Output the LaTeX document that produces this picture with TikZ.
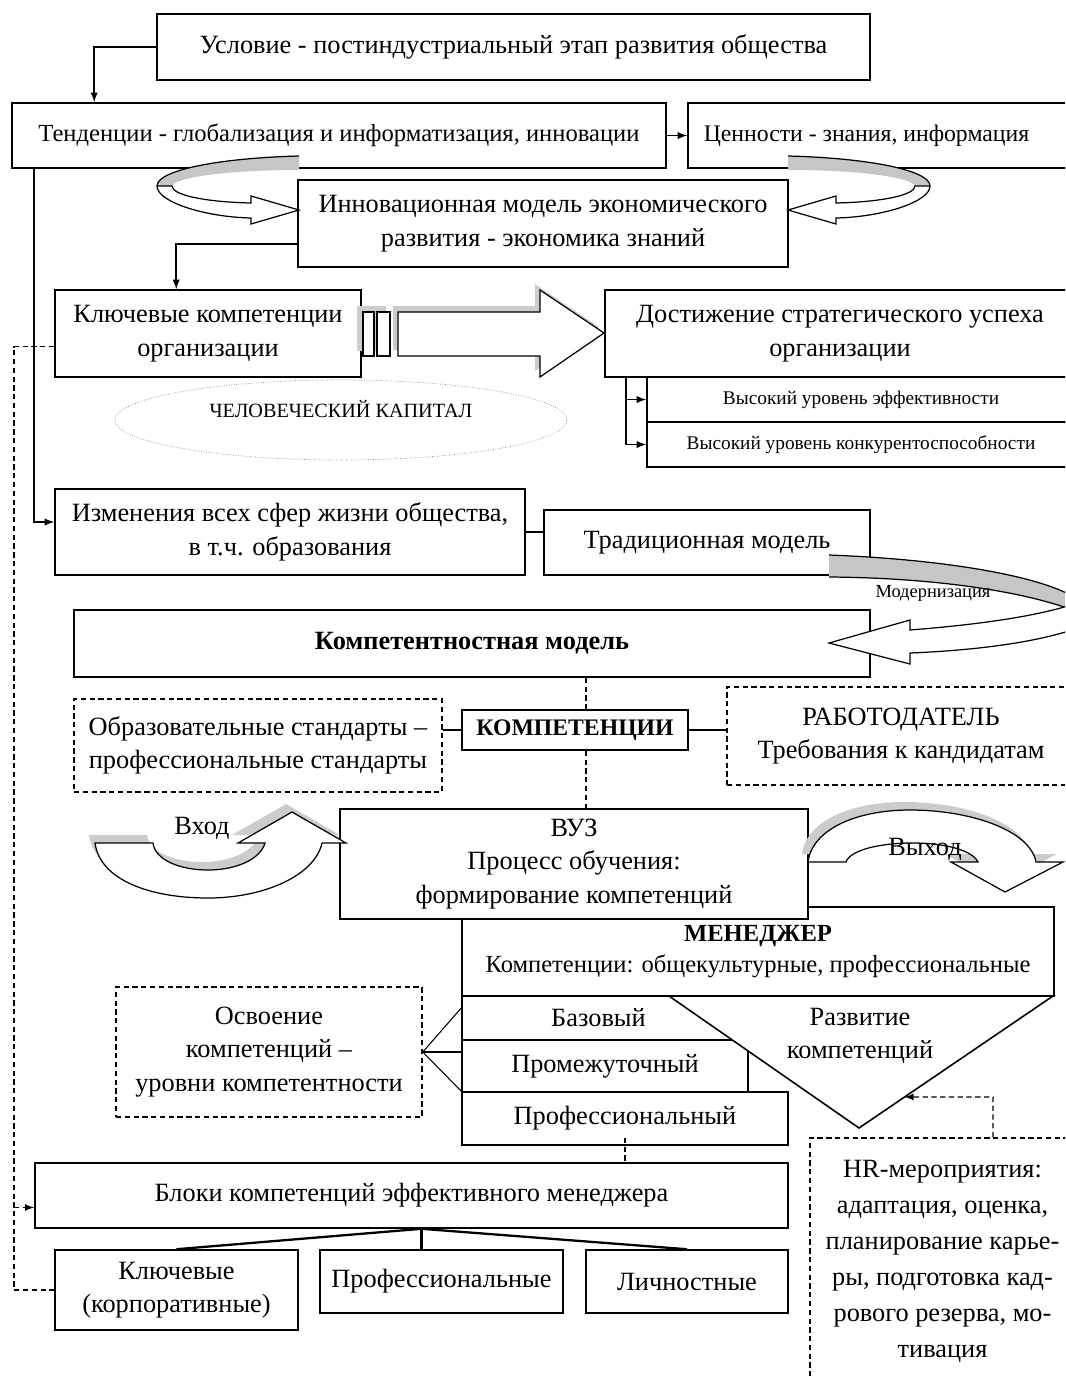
\documentclass[tikz,border=0pt]{standalone}
\usepackage{fontspec}
\setmainfont{Liberation Serif}
\usetikzlibrary{calc,shapes.geometric}

\tikzset{
  box/.style={draw, fill=white, line width=0.9pt, inner sep=0pt, align=center,
    font=\fontsize{15}{19}\selectfont},
  dbox/.style={box, dash pattern=on 3pt off 2pt},
  bbox/.style={box, font=\bfseries\fontsize{15}{19}\selectfont},
  sz/.style 2 args={minimum width=#1*0.02cm, minimum height=#2*0.02cm},
  small/.style={font=\fontsize{11}{13}\selectfont},
  txt/.style={align=center, inner sep=0pt, font=\fontsize{15}{19}\selectfont},
  link/.style={line width=0.9pt},
  thinlink/.style={line width=0.6pt},
  dlink/.style={line width=0.8pt, dash pattern=on 3pt off 2pt},
  barrow/.style={draw, line width=0.7pt, fill=white},
  >=latex
}

% curved block arrow, drawn for the left side
\newcommand{\swirl}{%
  \fill[gray!45] (299,156) .. controls (220,158) and (157,170) .. (157,186)
    -- (172,186) .. controls (176,177) and (230,170) .. (299,170) -- cycle;
  \draw[line width=0.7pt] (299,156) .. controls (220,158) and (157,170) .. (157,186);
  \draw[barrow] (157,186) .. controls (157,202) and (205,217) .. (251,218)
    -- (251,224) -- (299,210) -- (251,196) -- (251,203)
    .. controls (205,202) and (172,195) .. (172,186) -- cycle;
}

\begin{document}
\begin{tikzpicture}[x=0.02cm, y=-0.02cm]
  \useasboundingbox (0,0) rectangle (1065,1376);
  \clip (0,0) rectangle (1065,1376);

  % Top: condition, tendencies, values
  \node[box, sz={713}{66}] (cond) at (513.5,47) {Условие - постиндустриальный этап развития общества};
  \node[box, sz={654}{65}, font=\fontsize{14}{18}\selectfont] (tend) at (339,135.5) {Тенденции - глобализация и информатизация, инновации};
  \node[box, sz={387}{65}, font=\fontsize{13.5}{17}\selectfont] (val) at (881.5,135.5) {Ценности - знания, информация\hspace*{0.6cm}};
  \node[box, sz={490}{87}] (innov) at (543,223.5) {Инновационная модель экономического\\развития - экономика знаний};
  \draw[link,->] (cond.west) -| ($(tend.north west)+(83,0)$);
  \draw[link,->] (tend.east) -- (val.west);

  % Curved arrows into the innovation model
  \swirl
  \begin{scope}[shift={(1087,0)}, xscale=-1]
    \swirl
  \end{scope}

  % Key competences and strategic success
  \node[box, sz={306}{87}] (key) at (208,333.5) {Ключевые компетенции\\организации};
  \node[box, sz={470}{87}] (goal) at (840,333.5) {Достижение стратегического успеха\\организации};
  \node[box, small, sz={428}{45}] (eff) at (861,399.5) {Высокий уровень эффективности};
  \node[box, small, sz={428}{45}] (rival) at (861,444.5) {Высокий уровень конкурентоспособности};
  \draw[link,->] ($(innov.south west)+(0,-24)$) -| ($(key.north west)+(122,0)$);
  \draw[link,->] ($(goal.south west)+(22,0)$) |- (eff.west);
  \draw[link,->] ($(goal.south west)+(22,0)$) |- (rival.west);

  % Big arrow with its shadow
  \fill[gray!40] (357,306) rectangle (386,351);
  \fill[gray!40] (393,306) -- (535,306) -- (535,284) -- (599,327) -- (535,371) -- (535,350) -- (393,350) -- cycle;
  \draw[barrow] (363,312) rectangle (374,356);
  \draw[barrow] (377,312) rectangle (390,356);
  \draw[barrow] (398,312) -- (540,312) -- (540,290) -- (604,333) -- (540,377) -- (540,356) -- (398,356) -- cycle;

  \node[draw=gray, densely dotted, ellipse, minimum width=9.04cm, minimum height=1.6cm,
    inner sep=0pt, text depth=0.45cm, font=\fontsize{11.5}{13}\selectfont] (hc) at (341,420) {ЧЕЛОВЕЧЕСКИЙ КАПИТАЛ};

  % Changes, traditional and competence model
  \node[box, sz={470}{86}] (change) at (290,532) {Изменения всех сфер жизни общества,\\в т.ч. образования};
  \node[box, sz={326}{65}] (trad) at (707,542.5) {Традиционная модель};
  \node[bbox, sz={796}{67}] (model) at (472,643.5) {Компетентностная модель};
  \draw[link,->] ($(tend.south west)+(23,0)$) |- ($(change.west)+(0,-10)$);
  \draw[link] (change.east) -- (change.east -| trad.west);

  % Modernisation arrow
  \fill[gray!45] (829,555) .. controls (960,560) and (1060,580) .. (1085,605)
    -- (1085,615) .. controls (1040,595) and (950,578) .. (829,577) -- cycle;
  \draw[line width=0.7pt] (829,555) .. controls (960,560) and (1060,580) .. (1085,605);
  \draw[line width=0.7pt] (829,577) .. controls (950,578) and (1040,595) .. (1085,615);
  \draw[barrow] (1085,600) .. controls (1040,618) and (960,626) .. (910,630) -- (910,620)
    -- (829,643) -- (910,664) -- (910,653) .. controls (985,650) and (1050,640) .. (1085,625);
  \node[font=\fontsize{10.5}{12}\selectfont, inner sep=0pt] (modern) at (933,593) {Модернизация};

  % Competences between standards and employer
  \node[dbox, sz={368}{93}] (std) at (258,745.5) {Образовательные стандарты –\\профессиональные стандарты};
  \node[bbox, sz={226}{40}, font=\bfseries\fontsize{13.5}{16}\selectfont] (kompet) at (575,730) {КОМПЕТЕНЦИИ};
  \node[dbox, sz={348}{98}] (emp) at (901,736) {РАБОТОДАТЕЛЬ\\Требования к кандидатам};
  \draw[link] (std.east |- kompet.west) -- (kompet.west);
  \draw[link] (kompet.east) -- (kompet.east -| emp.west);
  \draw[dlink] (586,0 |- model.south) -- (586,0 |- kompet.north);

  % University and manager
  \node[box, sz={592}{89}, font=\fontsize{14}{18}\selectfont] (mgr) at (758,951.5) {\textbf{МЕНЕДЖЕР}\\Компетенции: общекультурные, профессиональные};
  \node[box, sz={468}{110}] (vuz) at (574,864) {ВУЗ\\Процесс обучения:\\формирование компетенций};
  \draw[dlink] (586,0 |- kompet.south) -- (586,0 |- vuz.north);

  % Entry arrow
  \begin{scope}[shift={(-6,-8)}]
    \fill[gray!40] (95,843) .. controls (100,880) and (150,898) .. (208,898) .. controls (265,898) and (315,875) .. (322,843)
      -- (346,843) -- (292,812) -- (238,843) -- (265,843) .. controls (260,860) and (235,870) .. (208,870)
      .. controls (180,870) and (155,860) .. (153,843) -- cycle;
  \end{scope}
  \draw[barrow] (95,843) .. controls (100,880) and (150,898) .. (208,898) .. controls (265,898) and (315,875) .. (322,843)
    -- (346,843) -- (292,812) -- (238,843) -- (265,843) .. controls (260,860) and (235,870) .. (208,870)
    .. controls (180,870) and (155,860) .. (153,843) -- cycle;
  \node[txt] (entry) at (202,828) {Вход};

  % Exit arrow
  \begin{scope}[shift={(-6,-8)}]
    \fill[gray!40] (808,862) .. controls (812,830) and (855,810) .. (910,810) .. controls (970,810) and (1030,830) .. (1036,862)
      -- (1063,862) -- (1005,892) -- (951,862) -- (978,862) .. controls (972,850) and (945,843) .. (912,843)
      .. controls (880,843) and (850,850) .. (846,862) -- cycle;
  \end{scope}
  \draw[barrow] (808,862) .. controls (812,830) and (855,810) .. (910,810) .. controls (970,810) and (1030,830) .. (1036,862)
    -- (1063,862) -- (1005,892) -- (951,862) -- (978,862) .. controls (972,850) and (945,843) .. (912,843)
    .. controls (880,843) and (850,850) .. (846,862) -- cycle;
  \node[txt] (exit) at (925,849) {Выход};

  % Levels of competence and development
  \node[box, sz={273}{44}] (base) at (598.5,1018) {Базовый};
  \node[box, sz={286}{52}] (mid) at (605,1066) {Промежуточный};
  \node[box, sz={326}{53}] (prof) at (625,1118.5) {Профессиональный};
  \coordinate (tl) at (669,996);
  \coordinate (tr) at (1053,996);
  \coordinate (tb) at (859,1128);
  \draw[fill=white, line width=0.9pt] (tl) -- (tr) -- (tb) -- cycle;
  \node[txt] (grow) at (860,1036) {Развитие\\компетенций};

  \node[dbox, sz={306}{130}] (master) at (269,1052) {Освоение\\компетенций –\\уровни компетентности};
  \draw[thinlink] (master.east) -- ($(base.west)+(0,-10)$);
  \draw[thinlink] (master.east) -- (master.east -| mid.west);
  \draw[thinlink] (master.east) -- (prof.north west);

  % HR measures
  \node[dbox, sz={265}{247}, font=\fontsize{15}{20.5}\selectfont] (hr) at (942.5,1261.5)
    {HR-мероприятия:\\адаптация, оценка,\\планирование карье-\\ры, подготовка кад-\\рового резерва, мо-\\тивация};
  \coordinate (hrturn) at (993,1097);
  \draw[dlink,->] (hrturn |- hr.north) -- (hrturn) -- ($(tr)!0.765!(tb)$);

  % Blocks of competences
  \node[box, sz={753}{65}] (blocks) at (411.5,1195.5) {Блоки компетенций эффективного менеджера};
  \node[box, sz={243}{80}] (corp) at (176.5,1290) {Ключевые\\(корпоративные)};
  \node[box, sz={243}{63}] (proff) at (441.5,1281.5) {Профессиональные};
  \node[box, sz={202}{63}] (pers) at (687,1281.5) {Личностные};
  \draw[dlink] ($(prof.south)+(0,-8)$) -- (prof.south |- blocks.north);
  \coordinate (hub) at ($(blocks.south)+(10,0)$);
  \draw[line width=1.3pt] (hub) -- (corp.north);
  \draw[line width=1.3pt] (hub) -- (hub |- proff.north);
  \draw[line width=1.3pt] (hub) -- (pers.north);

  % Dashed loop on the left
  \coordinate (bin) at ($(blocks.west)+(0,12)$);
  \draw[dlink] ($(key.west)+(0,13)$) -| (14,0 |- corp.west) -- (corp.west);
  \draw[dlink,->] (14,0 |- bin) -- (bin);
\end{tikzpicture}
\end{document}
